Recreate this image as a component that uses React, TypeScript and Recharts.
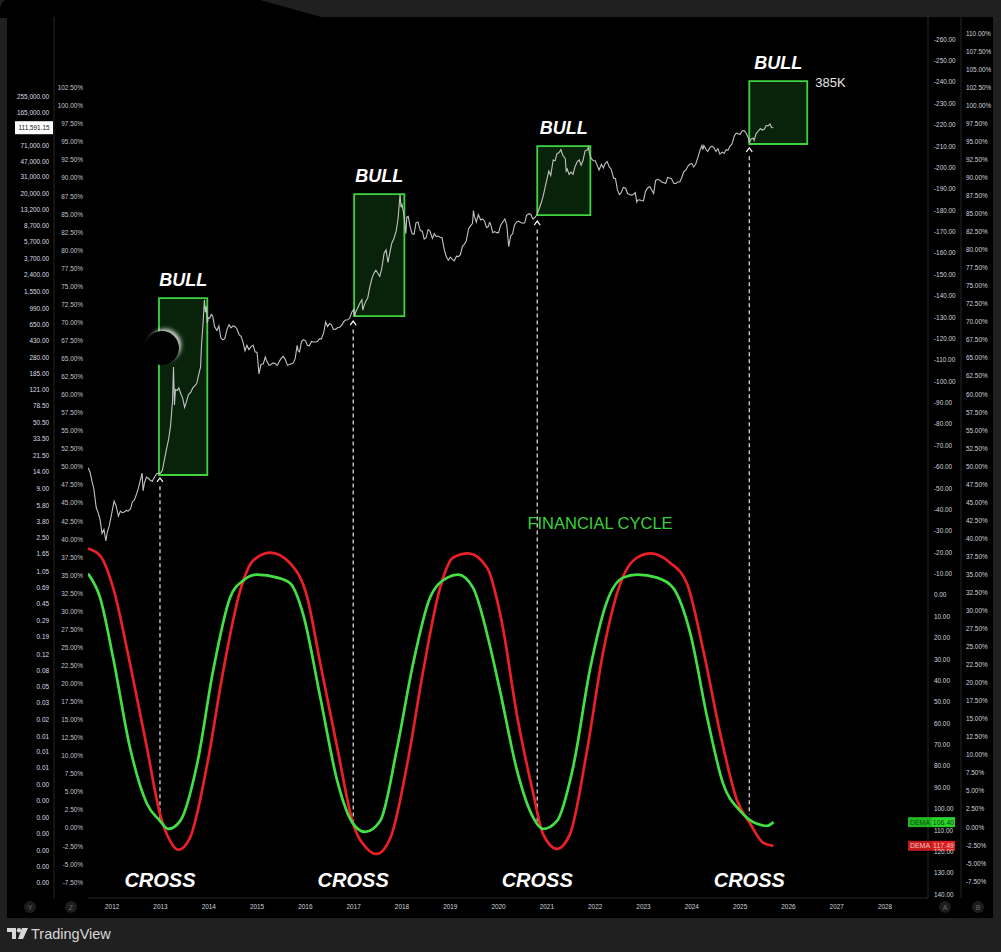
import React from "react";
import {
  ComposedChart, Line, XAxis, YAxis, ReferenceArea, ReferenceLine, ReferenceDot,
} from "recharts";

// BTC price on the log pane, [year, price]
const PRICE: [number, number][] = [
  [2011.5, 15.5], [2011.54, 14], [2011.58, 11], [2011.62, 9], [2011.67, 5.5], [2011.71, 4.8], [2011.75, 4],
  [2011.79, 2.8], [2011.83, 3.1], [2011.87, 2.3], [2011.9, 2.9], [2011.94, 3.4], [2011.98, 4.4],
  [2012.04, 6.5], [2012.08, 5.8], [2012.13, 4.4], [2012.17, 5.0], [2012.21, 4.8], [2012.25, 4.9], [2012.29, 5.1],
  [2012.33, 5.0], [2012.38, 5.3], [2012.42, 6.4], [2012.46, 6.7], [2012.5, 7.7], [2012.54, 9.0], [2012.58, 11.0],
  [2012.62, 13.5], [2012.64, 8.5], [2012.67, 10.5], [2012.71, 12.2], [2012.75, 11.8], [2012.79, 11.2], [2012.83, 10.9],
  [2012.88, 12.3], [2012.92, 13.3], [2012.96, 13.4],
  [2013.0, 13.5], [2013.04, 14.5], [2013.08, 19], [2013.13, 26], [2013.17, 33], [2013.21, 47], [2013.25, 90],
  [2013.27, 215], [2013.29, 80], [2013.31, 120], [2013.35, 117], [2013.38, 125], [2013.42, 108], [2013.46, 95],
  [2013.5, 75], [2013.54, 88], [2013.58, 105], [2013.63, 112], [2013.67, 125], [2013.71, 132], [2013.75, 140],
  [2013.79, 175], [2013.83, 215], [2013.85, 380], [2013.88, 650], [2013.91, 1250], [2013.93, 900], [2013.95, 1050],
  [2013.97, 680], [2013.99, 780],
  [2014.02, 770], [2014.05, 850], [2014.08, 820], [2014.12, 620], [2014.17, 560], [2014.21, 630], [2014.25, 460],
  [2014.29, 440], [2014.33, 450], [2014.38, 580], [2014.42, 650], [2014.46, 600], [2014.5, 630], [2014.54, 620],
  [2014.58, 590], [2014.63, 500], [2014.67, 480], [2014.71, 410], [2014.75, 330], [2014.79, 380], [2014.83, 340],
  [2014.88, 370], [2014.92, 380], [2014.96, 320],
  [2015.0, 315], [2015.04, 180], [2015.08, 230], [2015.13, 235], [2015.17, 280], [2015.21, 245], [2015.25, 225],
  [2015.29, 230], [2015.33, 240], [2015.38, 235], [2015.42, 225], [2015.46, 250], [2015.5, 270], [2015.54, 285],
  [2015.58, 265], [2015.63, 225], [2015.67, 230], [2015.71, 235], [2015.75, 240], [2015.79, 270], [2015.83, 380],
  [2015.85, 330], [2015.88, 320], [2015.92, 420], [2015.96, 440],
  [2016.0, 430], [2016.04, 380], [2016.08, 375], [2016.13, 420], [2016.17, 415], [2016.21, 415], [2016.25, 420],
  [2016.29, 450], [2016.33, 450], [2016.38, 530], [2016.42, 700], [2016.46, 620], [2016.5, 670], [2016.54, 650],
  [2016.58, 575], [2016.63, 580], [2016.67, 605], [2016.71, 610], [2016.75, 640], [2016.79, 700], [2016.83, 735],
  [2016.88, 740], [2016.92, 780], [2016.96, 900],
  [2017.0, 970], [2017.02, 800], [2017.04, 900], [2017.08, 1000], [2017.13, 1150], [2017.17, 1250], [2017.19, 950],
  [2017.21, 1050], [2017.25, 1200], [2017.29, 1300], [2017.33, 1700], [2017.38, 2200], [2017.42, 2500],
  [2017.46, 2700], [2017.5, 2500], [2017.54, 2300], [2017.58, 2800], [2017.63, 4200], [2017.67, 4600],
  [2017.71, 3300], [2017.75, 4300], [2017.79, 5500], [2017.83, 6100], [2017.88, 7500], [2017.92, 10500],
  [2017.96, 19500], [2017.98, 14000],
  [2018.0, 15000], [2018.04, 11500], [2018.08, 7000], [2018.1, 10800], [2018.13, 11000], [2018.17, 8300],
  [2018.21, 7000], [2018.25, 6900], [2018.29, 9300], [2018.33, 9500], [2018.38, 7600], [2018.42, 7500],
  [2018.46, 6100], [2018.5, 6300], [2018.54, 7800], [2018.58, 7500], [2018.63, 6200], [2018.67, 7000],
  [2018.71, 6500], [2018.75, 6600], [2018.79, 6400], [2018.83, 6300], [2018.88, 4500], [2018.92, 3800], [2018.96, 3500],
  [2019.0, 3800], [2019.04, 3600], [2019.08, 3450], [2019.13, 3900], [2019.17, 3850], [2019.21, 4050], [2019.25, 5000],
  [2019.29, 5300], [2019.33, 5800], [2019.38, 8000], [2019.42, 8600], [2019.46, 9200], [2019.48, 12800],
  [2019.5, 11000], [2019.54, 9500], [2019.58, 11500], [2019.63, 10000], [2019.67, 10300], [2019.71, 9700],
  [2019.75, 8200], [2019.79, 8500], [2019.81, 9400], [2019.83, 9200], [2019.88, 7200], [2019.92, 7400], [2019.96, 7200],
  [2020.0, 7200], [2020.04, 8700], [2020.08, 9400], [2020.13, 10300], [2020.17, 8700], [2020.21, 5000], [2020.25, 6600],
  [2020.29, 7000], [2020.33, 8800], [2020.38, 9600], [2020.42, 9700], [2020.46, 9400], [2020.5, 9200], [2020.54, 9300],
  [2020.58, 11300], [2020.63, 11800], [2020.67, 11500], [2020.71, 10300], [2020.75, 10700], [2020.79, 11400],
  [2020.83, 13000], [2020.88, 15500], [2020.92, 18500], [2020.96, 23000],
  [2021.0, 29000], [2021.04, 36000], [2021.08, 32000], [2021.13, 48000], [2021.17, 47000], [2021.21, 57000],
  [2021.25, 58000], [2021.29, 63000], [2021.33, 54000], [2021.38, 50000], [2021.4, 36000], [2021.42, 38000],
  [2021.46, 33000], [2021.5, 35000], [2021.54, 33000], [2021.58, 40000], [2021.63, 46000], [2021.67, 48000],
  [2021.71, 42000], [2021.75, 48000], [2021.79, 61000], [2021.83, 62000], [2021.86, 67000], [2021.88, 57000],
  [2021.92, 50000], [2021.96, 47000],
  [2022.0, 47000], [2022.04, 42000], [2022.08, 37000], [2022.13, 43000], [2022.17, 39000], [2022.21, 44000],
  [2022.25, 46000], [2022.29, 40000], [2022.33, 38000], [2022.38, 30000], [2022.42, 29500], [2022.46, 22000],
  [2022.5, 19500], [2022.54, 20500], [2022.58, 23500], [2022.63, 23000], [2022.67, 20000], [2022.71, 19500],
  [2022.75, 19200], [2022.79, 19500], [2022.83, 20500], [2022.86, 16000], [2022.88, 16800], [2022.92, 17000],
  [2022.96, 16600],
  [2023.0, 16600], [2023.04, 21000], [2023.08, 23000], [2023.13, 24000], [2023.17, 22000], [2023.21, 20000],
  [2023.25, 28000], [2023.29, 29000], [2023.33, 28500], [2023.38, 27000], [2023.42, 26500], [2023.46, 26000],
  [2023.5, 30500], [2023.54, 30000], [2023.58, 29500], [2023.63, 26000], [2023.67, 26000], [2023.71, 27000],
  [2023.75, 27000], [2023.79, 30000], [2023.83, 35000], [2023.88, 37000], [2023.92, 41000], [2023.96, 43000],
  [2024.0, 44000], [2024.04, 40000], [2024.08, 43000], [2024.13, 52000], [2024.17, 62000], [2024.21, 70000],
  [2024.23, 63000], [2024.25, 70000], [2024.29, 64000], [2024.33, 60000], [2024.38, 67000], [2024.42, 69000],
  [2024.46, 66000], [2024.5, 60000], [2024.54, 65000], [2024.58, 56000], [2024.63, 59000], [2024.67, 57000],
  [2024.71, 63000], [2024.75, 62000], [2024.79, 69000], [2024.83, 72000], [2024.88, 90000], [2024.92, 97000],
  [2024.96, 95000],
  [2025.0, 94000], [2025.04, 102000], [2025.08, 104000], [2025.13, 96000], [2025.17, 86000], [2025.19, 76000],
  [2025.23, 83000], [2025.27, 85000], [2025.29, 80000], [2025.33, 95000], [2025.38, 103000], [2025.42, 109000],
  [2025.46, 105000], [2025.5, 107000], [2025.54, 118000], [2025.58, 117000], [2025.62, 123000], [2025.65, 112000],
  [2025.69, 111591.15],
];

// financial cycle oscillator, [year, value] on the inverted right scale
const DEMA_FAST: [number, number][] = [
  [2011.5, -9.9], [2011.75, 1.4], [2012.02, 29.5], [2012.37, 71.6], [2012.72, 97.8], [2012.99, 105.8],
  [2013.16, 109.6], [2013.41, 105.8], [2013.76, 79.1], [2014.09, 35.6], [2014.44, 1.4], [2014.71, -6.6],
  [2015.0, -9.4], [2015.42, -8.0], [2015.69, -5.2], [2015.95, 8.9], [2016.31, 48.2], [2016.66, 87.1],
  [2016.99, 107.2], [2017.24, 111.0], [2017.55, 105.8], [2017.9, 71.6], [2018.23, 32.3], [2018.58, 1.4],
  [2018.94, -8.0], [2019.16, -9.4], [2019.47, -3.3], [2019.83, 24.8], [2020.03, 45.0], [2020.39, 83.0],
  [2020.72, 104.4], [2020.92, 109.6], [2021.21, 105.8], [2021.54, 81.0], [2021.9, 34.1], [2022.25, 2.8],
  [2022.58, -8.0], [2022.87, -9.4], [2023.28, -8.0], [2023.61, -3.3], [2023.97, 18.2], [2024.32, 57.6],
  [2024.65, 88.5], [2025.0, 101.1], [2025.35, 107.2], [2025.56, 108.1], [2025.69, 106.4],
];

const DEMA_SLOW: [number, number][] = [
  [2011.5, -21.6], [2011.75, -18.3], [2012.02, -3.3], [2012.37, 32.3], [2012.72, 71.6], [2012.99, 102.5],
  [2013.2, 115.2], [2013.37, 119.4], [2013.61, 113.8], [2013.97, 79.1], [2014.3, 35.6], [2014.65, -1.9],
  [2014.92, -16.0], [2015.27, -19.7], [2015.69, -14.6], [2016.04, 1.4], [2016.31, 32.3], [2016.66, 71.6],
  [2016.99, 107.2], [2017.28, 118.9], [2017.47, 121.3], [2017.76, 113.8], [2018.11, 79.1], [2018.44, 35.6],
  [2018.79, -3.3], [2019.06, -17.4], [2019.37, -19.3], [2019.76, -12.7], [2020.06, 12.0], [2020.39, 57.6],
  [2020.72, 93.2], [2020.92, 111.9], [2021.21, 118.9], [2021.48, 111.9], [2021.83, 73.0], [2022.17, 26.2],
  [2022.52, -5.2], [2022.79, -16.0], [2023.14, -19.3], [2023.55, -15.0], [2023.9, -5.2], [2024.24, 26.2],
  [2024.59, 65.1], [2024.94, 96.4], [2025.21, 107.2], [2025.48, 116.1], [2025.69, 117.49],
];

const YEARS = [2012, 2013, 2014, 2015, 2016, 2017, 2018, 2019, 2020, 2021, 2022, 2023, 2024, 2025, 2026, 2027, 2028];
const PRICE_TICKS = [
  255000, 165000, 71000, 47000, 31000, 20000, 13200, 8700, 5700, 3700, 2400, 1550, 990, 650, 430, 280, 185, 121,
  78.5, 50.5, 33.5, 21.5, 14, 9, 5.8, 3.8, 2.5, 1.65, 1.05, 0.69, 0.45, 0.29, 0.19, 0.12, 0.079, 0.052, 0.034,
  0.022, 0.014, 0.0095, 0.0062, 0.004, 0.0026, 0.0017, 0.0011, 0.00072, 0.00047, 0.00031,
];
const LEFT_PCT_TICKS = [
  -7.5, -5, -2.5, 0, 2.5, 5, 7.5, 10, 12.5, 15, 17.5, 20, 22.5, 25, 27.5, 30, 32.5, 35, 37.5, 40, 42.5, 45, 47.5,
  50, 52.5, 55, 57.5, 60, 62.5, 65, 67.5, 70, 72.5, 75, 77.5, 80, 82.5, 85, 87.5, 90, 92.5, 95, 97.5, 100, 102.5,
];
const RIGHT_PCT_TICKS = [...LEFT_PCT_TICKS, 105, 107.5, 110];
const OSC_TICKS = [
  -260, -250, -240, -230, -220, -210, -200, -190, -180, -170, -160, -150, -140, -130, -120, -110, -100, -90, -80,
  -70, -60, -50, -40, -30, -20, -10, 0, 10, 20, 30, 40, 50, 60, 70, 80, 90, 100, 110, 120, 130, 140,
];

// bull boxes (price pane) and cross markers (cycle pane)
const BULL_START = [2012.97, 2017.01, 2020.8, 2025.19];
const BULL_END = [2013.97, 2018.05, 2021.9, 2026.39];
const BULL_HIGH = [1306, 19700, 69100, 377000];
const BULL_LOW = [12.85, 816, 11400, 72900];
const CROSS_AT = [2012.99, 2016.99, 2020.8, 2025.19];
const ARROW_AT = [-53.7, -127.1, -173.9, -208.1];
const CROSS_LEVEL = [105, 108, 108, 103];
const TARGET_LABEL = "385K";
const LAST_PRICE = 111591.15;
const LAST_FAST = 106.4;
const LAST_SLOW = 117.49;

const X_DOMAIN = [2011.5, 2028.89];
const PRICE_DOMAIN = [0.000205, 2010000];
const OSC_DOMAIN = [-270.3, 141.9];

const TICK_FONT = "'Liberation Sans', Arial, sans-serif";
const BIG = { fill: "#fff", fontFamily: "'Liberation Sans', Arial, sans-serif", fontWeight: 700, fontStyle: "italic" };

const priceData = PRICE.map(([t, p]) => ({ t, p }));
const fastData = DEMA_FAST.map(([t, v]) => ({ t, v }));
const slowData = DEMA_SLOW.map(([t, v]) => ({ t, v }));

const fmt2 = (v: number) => v.toLocaleString("en-US", { minimumFractionDigits: 2, maximumFractionDigits: 2 });
const fmtPct = (v: number) => `${v.toFixed(2)}%`;

// narrow tick text, like the condensed TradingView scale font
const NarrowTick = (fmt: (v: number) => string, fill: string) => (p: any) => {
  const { x, y, payload, textAnchor, verticalAnchor } = p;
  const dy = verticalAnchor === "start" ? 7 : 2.7;
  return (
    <text
      x={x} y={y + dy} textAnchor={textAnchor} fill={fill} fontSize={7.8} fontFamily={TICK_FONT}
      transform={`translate(${x},0) scale(0.82,1) translate(${-x},0)`}
    >{fmt(payload.value)}</text>
  );
};

const textShape = (value: string, props: any) => (p: any) => (
  <text x={p.cx} y={p.cy} textAnchor="middle" dominantBaseline="central" {...props}>{value}</text>
);

const caretShape = (p: any) => (
  <path d={`M${p.cx - 3},${p.cy + 2} L${p.cx},${p.cy - 2} L${p.cx + 3},${p.cy + 2}`} stroke="#fff" strokeWidth={1.2} fill="none" />
);

const priceTag = (p: any) => (
  <g>
    <rect x={p.cx - 73} y={p.cy - 6.5} width={38} height={13} fill="#fff" />
    <text x={p.cx - 54} y={p.cy + 2.7} textAnchor="middle" fontSize={7.8} fontFamily={TICK_FONT} fill="#111"
      transform={`translate(${p.cx - 54},0) scale(0.82,1) translate(${54 - p.cx},0)`}>
      {fmt2(LAST_PRICE)}
    </text>
  </g>
);

const demaTag = (value: number, bg: string, bgDark: string, fg: string) => (p: any) => (
  <g fontFamily={TICK_FONT} fontSize={7}>
    <rect x={p.cx - 20} y={p.cy - 5} width={24} height={10} fill={bgDark} />
    <rect x={p.cx + 4} y={p.cy - 5} width={23} height={10} fill={bg} />
    <text x={p.cx - 8} y={p.cy} textAnchor="middle" dominantBaseline="central" fill={fg}>DEMA</text>
    <text x={p.cx + 15.5} y={p.cy} textAnchor="middle" dominantBaseline="central" fill={fg}>{value.toFixed(2)}</text>
  </g>
);

const circleBtn = (left: number, letter: string) => (
  <div key={letter} style={{
    position: "absolute", left: left - 6, top: 901, width: 12, height: 12, borderRadius: 6,
    background: "#1c1c1c", color: "#6b6b6b", fontSize: 7, fontFamily: TICK_FONT,
    display: "flex", alignItems: "center", justifyContent: "center",
  }}>{letter}</div>
);

export default function App() {
  return (
    <div style={{ position: "absolute", left: 0, top: 0, width: 1001, height: 952, background: "#202020", overflow: "hidden" }}>
      {/* top-left dark blob over the header */}
      <svg width={340} height={20} style={{ position: "absolute", left: 0, top: 0 }}>
        <path d="M6 0 L260 0 L325 18 L0 18 L0 8 Q2 0 6 0 Z" fill="#000" />
      </svg>

      <div style={{ position: "absolute", left: 7, top: 17, width: 986, height: 901, background: "#000" }}>
        <ComposedChart width={986} height={901} margin={{ top: 0, right: 0, bottom: 0, left: 0 }}>
          <XAxis
            type="number" dataKey="t" domain={X_DOMAIN} allowDataOverflow ticks={YEARS} interval={0}
            tick={NarrowTick((v) => String(Math.round(v)), "#d1d4dc")}
            tickLine={false} tickSize={0} tickMargin={4} axisLine={{ stroke: "#262626" }} height={20}
          />
          <YAxis
            yAxisId="pct" orientation="left" type="number" domain={[-9.72, 112.26]} allowDataOverflow
            ticks={LEFT_PCT_TICKS} interval={0} tick={NarrowTick(fmtPct, "#c3c6cc")}
            tickLine={false} tickSize={0} tickMargin={5} axisLine={false} width={34}
          />
          <YAxis
            yAxisId="price" orientation="left" type="number" scale="log" domain={PRICE_DOMAIN} allowDataOverflow
            ticks={PRICE_TICKS} interval={0} tick={NarrowTick(fmt2, "#dcdfe4")}
            tickLine={false} tickSize={0} tickMargin={5} axisLine={{ stroke: "#262626" }} width={47}
          />
          <YAxis
            yAxisId="osc" orientation="right" type="number" domain={OSC_DOMAIN} allowDataOverflow reversed
            ticks={OSC_TICKS} interval={0} tick={NarrowTick((v) => v.toFixed(2), "#d1d4dc")}
            tickLine={false} tickSize={0} tickMargin={6} axisLine={{ stroke: "#262626" }} width={33}
          />
          <YAxis
            yAxisId="pctR" orientation="right" type="number" domain={[-9.86, 112.22]} allowDataOverflow
            ticks={RIGHT_PCT_TICKS} interval={0} tick={NarrowTick(fmtPct, "#d1d4dc")}
            tickLine={false} tickSize={0} tickMargin={5} axisLine={{ stroke: "#262626" }} width={32}
          />

          {BULL_START.map((x1, i) => (
            <ReferenceArea
              key={`bull${i}`} yAxisId="price" x1={x1} x2={BULL_END[i]} y1={BULL_LOW[i]} y2={BULL_HIGH[i]}
              fill="#0d3a10" fillOpacity={0.6} stroke="#3fd43f" strokeWidth={1.8} ifOverflow="visible"
              label={{ value: "BULL", position: "top", offset: 12, ...BIG, fontSize: 18 }}
            />
          ))}

          {CROSS_AT.map((x, i) => (
            <ReferenceLine
              key={`dash${i}`} yAxisId="osc"
              segment={[{ x, y: ARROW_AT[i] + 3 }, { x, y: CROSS_LEVEL[i] }]}
              stroke="#e8e8e8" strokeWidth={1.2} strokeDasharray="4 3" ifOverflow="visible"
            />
          ))}

          <Line data={priceData} yAxisId="price" dataKey="p" type="linear" stroke="#c2c2c2" strokeWidth={1.1}
            dot={false} isAnimationActive={false} />
          <Line data={slowData} yAxisId="osc" dataKey="v" type="monotone" stroke="#ea1f27" strokeWidth={2.7}
            dot={false} isAnimationActive={false} />
          <Line data={fastData} yAxisId="osc" dataKey="v" type="monotone" stroke="#43e043" strokeWidth={2.7}
            dot={false} isAnimationActive={false} />

          {CROSS_AT.map((x, i) => (
            <ReferenceDot key={`caret${i}`} yAxisId="osc" x={x} y={ARROW_AT[i]} r={0} shape={caretShape} ifOverflow="visible" />
          ))}
          {CROSS_AT.map((x, i) => (
            <ReferenceDot key={`cross${i}`} yAxisId="osc" x={x} y={133.5} r={0} ifOverflow="visible"
              shape={textShape("CROSS", { ...BIG, fontSize: 20 })} />
          ))}

          <ReferenceDot yAxisId="osc" x={2022.1} y={-33.6} r={0} ifOverflow="visible"
            shape={textShape("FINANCIAL CYCLE", { fill: "#3ccf3c", fontSize: 16.5, fontFamily: "'Liberation Sans', Arial, sans-serif" })} />
          <ReferenceDot yAxisId="price" x={BULL_END[3]} y={BULL_HIGH[3]} r={0} ifOverflow="visible"
            shape={(p: any) => (
              <text x={p.cx + 8} y={p.cy + 1} dominantBaseline="central" fill="#e6e6e6" fontSize={13}
                fontFamily="'Liberation Sans', Arial, sans-serif">{TARGET_LABEL}</text>
            )} />

          <ReferenceDot yAxisId="price" x={X_DOMAIN[0]} y={LAST_PRICE} r={0} ifOverflow="visible" shape={priceTag} />
          <ReferenceDot yAxisId="osc" x={X_DOMAIN[1]} y={LAST_FAST} r={0} ifOverflow="visible"
            shape={demaTag(LAST_FAST, "#2bd42b", "#22b822", "#0c4d0c")} />
          <ReferenceDot yAxisId="osc" x={X_DOMAIN[1]} y={LAST_SLOW} r={0} ifOverflow="visible"
            shape={demaTag(LAST_SLOW, "#d81e1e", "#c01a1a", "#ffc2c2")} />
        </ComposedChart>
      </div>

      {/* moon-like artifact over the first box */}
      <div style={{
        position: "absolute", left: 145, top: 331, width: 34, height: 34, borderRadius: 17, background: "#000",
        boxShadow: "3px -3px 4px -1px rgba(255,255,255,0.85)",
      }} />

      {circleBtn(30, "Y")}
      {circleBtn(71, "Z")}
      {circleBtn(945, "A")}
      {circleBtn(978, "B")}

      {/* footer logo */}
      <svg width={22} height={12} style={{ position: "absolute", left: 7, top: 928 }}>
        <path d="M0 0 H9 V11 H5 V4 H0 Z" fill="#d8d8d8" />
        <circle cx={12} cy={2.2} r={2.2} fill="#d8d8d8" />
        <path d="M15 0 H21 L16 11 H11 Z" fill="#d8d8d8" />
      </svg>
      <div style={{
        position: "absolute", left: 31, top: 925, color: "#d8d8d8", fontSize: 14.5,
        fontFamily: "'Liberation Sans', Arial, sans-serif", lineHeight: "18px",
      }}>TradingView</div>
    </div>
  );
}
